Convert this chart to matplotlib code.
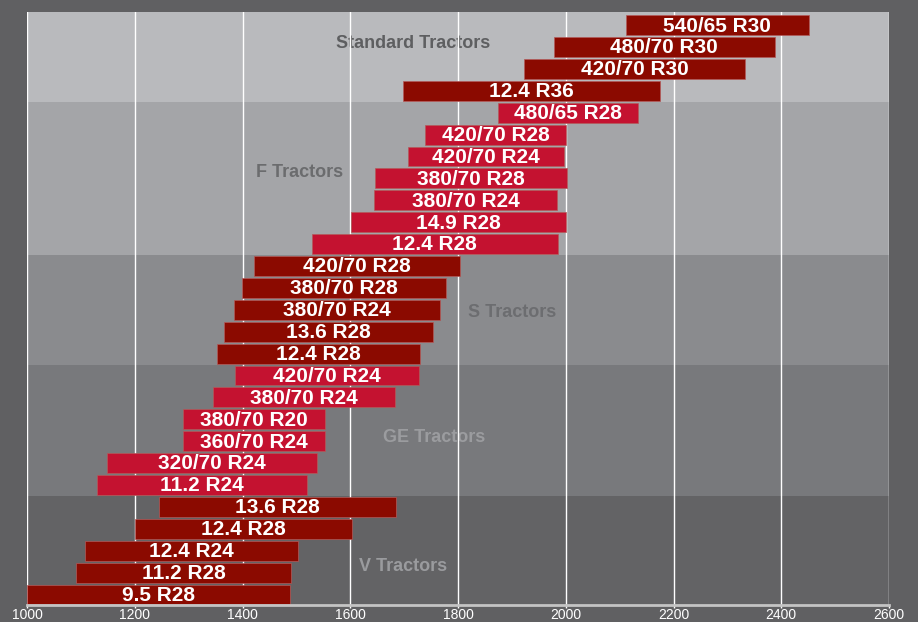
import numpy as np
import matplotlib
matplotlib.use("Agg")
import matplotlib.pyplot as plt

plt.rcParams['font.family'] = ['Liberation Sans', 'DejaVu Sans']

# tyre sizes, top to bottom
tyres = ['540/65 R30', '480/70 R30', '420/70 R30', '12.4 R36',
         '480/65 R28', '420/70 R28', '420/70 R24', '380/70 R28', '380/70 R24', '14.9 R28', '12.4 R28',
         '420/70 R28', '380/70 R28', '380/70 R24', '13.6 R28', '12.4 R28',
         '420/70 R24', '380/70 R24', '380/70 R20', '360/70 R24', '320/70 R24', '11.2 R24',
         '13.6 R28', '12.4 R28', '12.4 R24', '11.2 R28', '9.5 R28']
starts = [2112, 1978, 1922, 1698,
          1874, 1739, 1707, 1646, 1644, 1601, 1529,
          1421, 1399, 1384, 1366, 1353,
          1386, 1345, 1290, 1290, 1148, 1130,
          1245, 1200, 1108, 1091, 1000]
ends = [2451, 2388, 2333, 2175,
        2134, 2000, 1997, 2002, 1984, 2000, 1985,
        1804, 1778, 1767, 1754, 1730,
        1728, 1683, 1553, 1553, 1538, 1520,
        1685, 1603, 1503, 1490, 1488]

groups = ['Standard Tractors', 'F Tractors', 'S Tractors', 'GE Tractors', 'V Tractors']
group_sizes = [4, 7, 5, 6, 5]
band_colors = ['#b9babd', '#a4a5a8', '#8a8b8e', '#78797c', '#636365']
label_colors = ['#5e5f61', '#6b6c6e', '#6c6d70', '#9b9c9f', '#9a9b9e']
bar_colors = ['#8b0a00', '#c41230', '#8b0a00', '#c41230', '#8b0a00']
# where the group caption sits (x value, row)
label_x = [1716, 1505, 1900, 1755, 1698]
label_row = [0.82, 6.71, 13.1, 18.85, 24.7]

fig = plt.figure(figsize=(9.18, 6.22), dpi=100, facecolor='#606062')
ax = fig.add_axes([27/918, 1 - 605/622, 862/918, 593/622])
ax.set_facecolor('#606062')

top = -0.6
bottom = len(tyres) - 0.52
row = 0
for g, n in enumerate(group_sizes):
    lo = top if g == 0 else row - 0.5
    hi = bottom if g == len(group_sizes) - 1 else row + n - 0.5
    ax.axhspan(lo, hi, color=band_colors[g], zorder=0, lw=0)
    for i in range(row, row + n):
        ax.barh(i, ends[i] - starts[i], left=starts[i], height=0.91,
                color=bar_colors[g], edgecolor='#b35a5a', linewidth=0.5, zorder=3)
        ax.text((starts[i] + ends[i]) / 2, i + 0.04, tyres[i], color='white',
                fontsize=15, fontweight='bold', ha='center', va='center', zorder=4)
    bbox = None
    if g == 3:
        bbox = dict(facecolor=band_colors[g], edgecolor='none', pad=6)
    ax.text(label_x[g], label_row[g], groups[g], color=label_colors[g], fontsize=13,
            fontweight='bold', ha='center', va='center', zorder=2, bbox=bbox)
    row += n

ax.set_xlim(1000, 2600)
ax.set_ylim(bottom, top)
ax.set_xticks(np.arange(1000, 2601, 200))
ax.set_yticks([])
ax.grid(axis='x', color='white', linewidth=1)
ax.set_axisbelow(False)
for line in ax.get_xgridlines():
    line.set_zorder(1)
for s in ['top', 'left', 'right']:
    ax.spines[s].set_visible(False)
ax.spines['bottom'].set_color('#c4c4c4')
ax.spines['bottom'].set_linewidth(2)
ax.spines['bottom'].set_zorder(5)
ax.tick_params(axis='x', colors='white', labelsize=10, length=2, width=1, pad=0)

fig.savefig('out.png', dpi=100, facecolor=fig.get_facecolor())
